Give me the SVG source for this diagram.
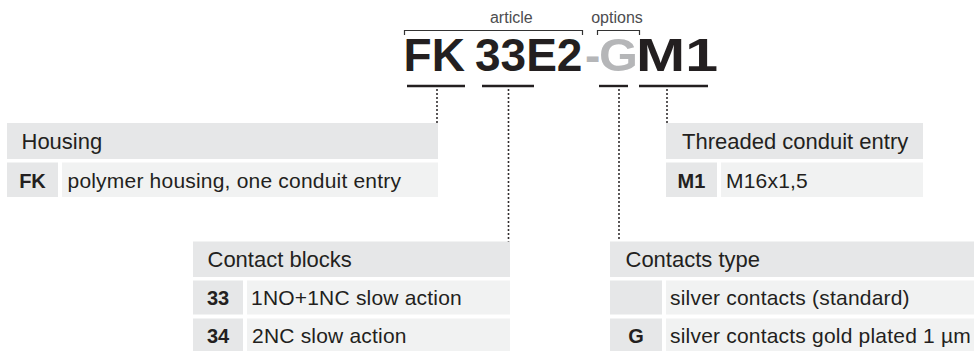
<svg xmlns="http://www.w3.org/2000/svg" width="974" height="351" viewBox="0 0 974 351">
<style>
.big{font-family:"Liberation Sans",Arial,sans-serif;font-weight:bold;font-size:46px;fill:#231f20}
.grey{fill:#b5b6b8}
.lbl{font-family:"Liberation Sans",Arial,sans-serif;font-size:16px;fill:#4d4d4f}
.hd{fill:#e6e7e8}
.code{fill:#e6e7e8}
.desc{fill:#f1f2f2}
.ht{font-family:"Liberation Sans",Arial,sans-serif;font-size:22px;fill:#231f20}
.ct{font-family:"Liberation Sans",Arial,sans-serif;font-size:20px;font-weight:bold;fill:#231f20;text-anchor:middle}
.dt{font-family:"Liberation Sans",Arial,sans-serif;font-size:21px;fill:#231f20;letter-spacing:0.2px}
.br{fill:none;stroke:#333;stroke-width:1.2}
.ul{stroke:#231f20;stroke-width:2.4}
.dot{stroke:#231f20;stroke-width:2;stroke-linecap:round;stroke-dasharray:0.1 3.9;fill:none}
</style>
<g id="code">
<text class="lbl" x="511.3" y="23.3" text-anchor="middle">article</text>
<text class="lbl" x="617" y="23.3" text-anchor="middle">options</text>
<path class="br" d="M404.5 35V30.5H582.5V35"/>
<path class="br" d="M597.5 35V30.5H639.5V35"/>
<text class="big" x="403.6" y="71">FK</text>
<text class="big" x="475" y="71">33E2</text>
<text class="big grey" x="585" y="71">-</text>
<text class="big grey" x="599" y="71" textLength="39" lengthAdjust="spacingAndGlyphs">G</text>
<text class="big" x="636" y="71" textLength="82" lengthAdjust="spacingAndGlyphs">M1</text>
<line class="ul" x1="407" y1="86" x2="465" y2="86"/>
<line class="ul" x1="482" y1="86" x2="534" y2="86"/>
<line class="ul" x1="599" y1="86" x2="628" y2="86"/>
<line class="ul" x1="639" y1="86" x2="708" y2="86"/>
</g>
<g id="connectors">
<line class="dot" x1="437" y1="90" x2="437" y2="123"/>
<line class="dot" x1="508.5" y1="90" x2="508.5" y2="246"/>
<line class="dot" x1="619" y1="90" x2="619" y2="242"/>
<line class="dot" x1="667" y1="90" x2="667" y2="123"/>
</g>
<g id="housing">
<rect class="hd" x="7" y="123" width="431" height="36"/>
<text class="ht" x="21.5" y="149">Housing</text>
<rect class="code" x="7" y="162.5" width="51" height="34.5"/>
<rect class="desc" x="62" y="162.5" width="376" height="34.5"/>
<text class="ct" x="32.5" y="187.5">FK</text>
<text class="dt" x="67.5" y="187.5">polymer housing, one conduit entry</text>
</g>
<g id="threaded">
<rect class="hd" x="666" y="123" width="257" height="36"/>
<text class="ht" x="682" y="149">Threaded conduit entry</text>
<rect class="code" x="666" y="162.5" width="51" height="34.5"/>
<rect class="desc" x="721" y="162.5" width="202" height="34.5"/>
<text class="ct" x="691.5" y="187.5">M1</text>
<text class="dt" x="726" y="187.5">M16x1,5</text>
</g>
<g id="contact-blocks">
<rect class="hd" x="193" y="241.5" width="317" height="35.5"/>
<text class="ht" x="207.5" y="267">Contact blocks</text>
<rect class="code" x="193" y="280.5" width="50" height="34"/>
<rect class="desc" x="247" y="280.5" width="263" height="34"/>
<text class="ct" x="218" y="305">33</text>
<text class="dt" x="251" y="305">1NO+1NC slow action</text>
<rect class="code" x="193" y="318.5" width="50" height="34"/>
<rect class="desc" x="247" y="318.5" width="263" height="34"/>
<text class="ct" x="218" y="343">34</text>
<text class="dt" x="252" y="343">2NC slow action</text>
</g>
<g id="contacts-type">
<rect class="hd" x="610" y="241.5" width="364" height="35.5"/>
<text class="ht" x="625.5" y="267">Contacts type</text>
<rect class="code" x="610" y="280.5" width="52" height="34"/>
<rect class="desc" x="666" y="280.5" width="308" height="34"/>
<text class="dt" x="670" y="305">silver contacts (standard)</text>
<rect class="code" x="610" y="318.5" width="52" height="34"/>
<rect class="desc" x="666" y="318.5" width="308" height="34"/>
<text class="ct" x="636" y="343">G</text>
<text class="dt" x="670" y="343">silver contacts gold plated 1 µm</text>
</g>
</svg>
